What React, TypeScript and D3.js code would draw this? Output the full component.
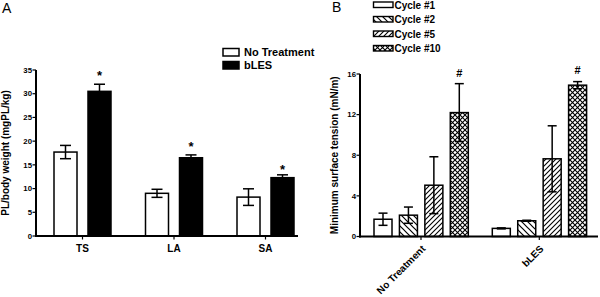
import React from 'react';
import * as d3 from 'd3';

// ---------- Panel A data ----------
const groupsA = ['TS', 'LA', 'SA'];
const seriesA = ['No Treatment', 'bLES'];
const meanNoTreatA = [17.7, 9.0, 8.2];
const errNoTreatA = [1.4, 0.85, 1.75];
const meanBlesA = [30.5, 16.5, 12.3];
const errBlesA = [1.5, 0.6, 0.6];
const starA = [34.4, 19.6, 14.6];
const ticksA = [0, 5, 10, 15, 20, 25, 30, 35];

// ---------- Panel B data ----------
const groupsB = ['No Treatment', 'bLES'];
const cyclesB = ['Cycle #1', 'Cycle #2', 'Cycle #5', 'Cycle #10'];
const meanCycle1 = [1.7, 0.8];
const errCycle1 = [0.6, 0.05];
const meanCycle2 = [2.1, 1.55];
const errCycle2 = [0.8, 0.05];
const meanCycle5 = [5.05, 7.65];
const errCycle5 = [2.8, 3.25];
const meanCycle10 = [12.2, 14.9];
const errCycle10 = [2.85, 0.35];
const hashB = [16.1, 16.4];
const ticksB = [0, 4, 8, 12, 16];

const FONT = 'Liberation Sans, Arial, Helvetica, sans-serif';

export default function App() {
  // Panel A layout
  const axA = 36, y0A = 236, yTopA = 70, xEndA = 298;
  const yA = d3.scaleLinear().domain([0, 35]).range([y0A, yTopA]);
  const gA = d3.scalePoint<string>().domain(groupsA).range([axA + 46.5, axA + 229.5]);
  const sA = d3.scaleBand<string>().domain(seriesA).range([-28.5, 28.5]).paddingInner(0.3235);
  const barsA: { g: string; s: string; m: number; e: number; fill: string }[] = [];
  groupsA.forEach((g, i) => {
    barsA.push({ g, s: seriesA[0], m: meanNoTreatA[i], e: errNoTreatA[i], fill: 'white' });
    barsA.push({ g, s: seriesA[1], m: meanBlesA[i], e: errBlesA[i], fill: 'black' });
  });

  // Panel B layout
  const axB = 360, y0B = 236.5, yTopB = 74, xEndB = 598;
  const yB = d3.scaleLinear().domain([0, 16]).range([y0B, yTopB]);
  const gB = d3.scalePoint<string>().domain(groupsB).range([421, 539.3]);
  const sB = d3.scaleBand<string>().domain(cyclesB).range([-47, 47.3]).paddingInner(0.292);
  const fillsB = ['white', 'url(#p2)', 'url(#p5)', 'url(#p10)'];
  const meansB = [meanCycle1, meanCycle2, meanCycle5, meanCycle10];
  const errsB = [errCycle1, errCycle2, errCycle5, errCycle10];
  const barsB: { g: string; c: string; m: number; e: number; fill: string }[] = [];
  groupsB.forEach((g, i) => {
    cyclesB.forEach((c, j) => {
      barsB.push({ g, c, m: meansB[j][i], e: errsB[j][i], fill: fillsB[j] });
    });
  });

  const errBar = (cx: number, yTop: number, yBot: number, cap: number, key: string) => (
    <g key={key} stroke="black" strokeWidth={1.5}>
      <line x1={cx} x2={cx} y1={yTop} y2={yBot} />
      <line x1={cx - cap / 2} x2={cx + cap / 2} y1={yTop} y2={yTop} />
      <line x1={cx - cap / 2} x2={cx + cap / 2} y1={yBot} y2={yBot} />
    </g>
  );

  return (
    <svg width={600} height={297} style={{ position: 'absolute', left: 0, top: 0, background: 'white' }} fontFamily={FONT}>
      <defs>
        <pattern id="p2" patternUnits="userSpaceOnUse" width={6} height={6}>
          <path d="M-1,-1 L7,7 M-1,5 L1,7 M5,-1 L7,1" stroke="black" strokeWidth={1.2} />
        </pattern>
        <pattern id="p5" patternUnits="userSpaceOnUse" width={5} height={5}>
          <path d="M-1,6 L6,-1 M-1,1 L1,-1 M4,6 L6,4" stroke="black" strokeWidth={1.1} />
        </pattern>
        <pattern id="p10" patternUnits="userSpaceOnUse" width={5} height={5}>
          <path d="M0,0 L5,5 M5,0 L0,5" stroke="black" strokeWidth={1.1} />
        </pattern>
      </defs>
      <rect x={0} y={0} width={600} height={297} fill="white" />

      {/* ===== Panel A ===== */}
      <text x={2} y={13} fontSize={14}>A</text>
      {seriesA.map((s, i) => (
        <g key={s}>
          <rect x={223} y={48.5 + i * 13} width={16} height={7.5} fill={i === 0 ? 'white' : 'black'} stroke="black" strokeWidth={1.5} />
          <text x={244} y={56 + i * 13} fontSize={11} fontWeight="bold">{s}</text>
        </g>
      ))}
      {barsA.map((b, i) => {
        const x = (gA(b.g) as number) + (sA(b.s) as number);
        return (
          <rect key={'ba' + i} x={x} y={yA(b.m)} width={sA.bandwidth()} height={y0A - yA(b.m)} fill={b.fill} stroke="black" strokeWidth={1.5} />
        );
      })}
      {barsA.map((b, i) => {
        const cx = (gA(b.g) as number) + (sA(b.s) as number) + sA.bandwidth() / 2;
        return errBar(cx, yA(b.m + b.e), yA(b.m - b.e), 11, 'ea' + i);
      })}
      {groupsA.map((g, i) => (
        <text key={'st' + i} x={(gA(g) as number) + (sA(seriesA[1]) as number) + sA.bandwidth() / 2} y={yA(starA[i]) + 7.5} fontSize={13} fontWeight="bold" textAnchor="middle">*</text>
      ))}
      <line x1={axA} x2={axA} y1={yTopA} y2={y0A + 1} stroke="black" strokeWidth={2} />
      <line x1={axA - 1} x2={xEndA} y1={y0A} y2={y0A} stroke="black" strokeWidth={2} />
      {ticksA.map(t => (
        <g key={'ta' + t}>
          <line x1={axA - 3.5} x2={axA} y1={yA(t)} y2={yA(t)} stroke="black" strokeWidth={1.2} />
          <text x={axA - 4} y={yA(t) + 2.7} fontSize={7.8} fontWeight="bold" textAnchor="end">{t}</text>
        </g>
      ))}
      {groupsA.map(g => (
        <g key={'xa' + g}>
          <line x1={gA(g) as number} x2={gA(g) as number} y1={y0A} y2={y0A + 3.5} stroke="black" strokeWidth={1.2} />
          <text x={gA(g) as number} y={251.5} fontSize={10} fontWeight="bold" textAnchor="middle">{g}</text>
        </g>
      ))}
      <text transform={`translate(8.5,${(y0A + yTopA) / 2}) rotate(-90)`} fontSize={10} fontWeight="bold" textAnchor="middle">PL/body weight (mgPL/kg)</text>

      {/* ===== Panel B ===== */}
      <text x={332} y={12} fontSize={14}>B</text>
      {cyclesB.map((c, i) => (
        <g key={c}>
          <rect x={373.5} y={2 + i * 14.5} width={19.5} height={5.5} fill={fillsB[i]} stroke="black" strokeWidth={1.4} />
          <text x={394.5} y={8.5 + i * 14.5} fontSize={10} fontWeight="bold">{c}</text>
        </g>
      ))}
      {barsB.map((b, i) => {
        const x = (gB(b.g) as number) + (sB(b.c) as number);
        return (
          <rect key={'bb' + i} x={x} y={yB(b.m)} width={sB.bandwidth()} height={y0B - yB(b.m)} fill={b.fill} stroke="black" strokeWidth={1.5} />
        );
      })}
      {barsB.map((b, i) => {
        const cx = (gB(b.g) as number) + (sB(b.c) as number) + sB.bandwidth() / 2;
        return errBar(cx, yB(b.m + b.e), yB(b.m - b.e), 9, 'eb' + i);
      })}
      {groupsB.map((g, i) => (
        <text key={'hs' + i} x={(gB(g) as number) + (sB(cyclesB[3]) as number) + sB.bandwidth() / 2} y={yB(hashB[i]) + 4} fontSize={11} fontWeight="bold" textAnchor="middle">#</text>
      ))}
      <line x1={axB} x2={axB} y1={yTopB} y2={y0B + 1} stroke="black" strokeWidth={2} />
      <line x1={axB - 1} x2={xEndB} y1={y0B} y2={y0B} stroke="black" strokeWidth={2} />
      {ticksB.map(t => (
        <g key={'tb' + t}>
          <line x1={axB - 3.5} x2={axB} y1={yB(t)} y2={yB(t)} stroke="black" strokeWidth={1.2} />
          <text x={axB - 4} y={yB(t) + 2.7} fontSize={7.8} fontWeight="bold" textAnchor="end">{t}</text>
        </g>
      ))}
      {groupsB.map(g => (
        <g key={'xb' + g}>
          <line x1={gB(g) as number} x2={gB(g) as number} y1={y0B} y2={y0B + 3.5} stroke="black" strokeWidth={1.2} />
          <text transform={`translate(${(gB(g) as number) + 5},${y0B + 13}) rotate(-45)`} fontSize={10} fontWeight="bold" textAnchor="end">{g}</text>
        </g>
      ))}
      <text transform={`translate(338,${(y0B + yTopB) / 2}) rotate(-90)`} fontSize={10} fontWeight="bold" textAnchor="middle">Minimum surface tension  (mN/m)</text>
    </svg>
  );
}
